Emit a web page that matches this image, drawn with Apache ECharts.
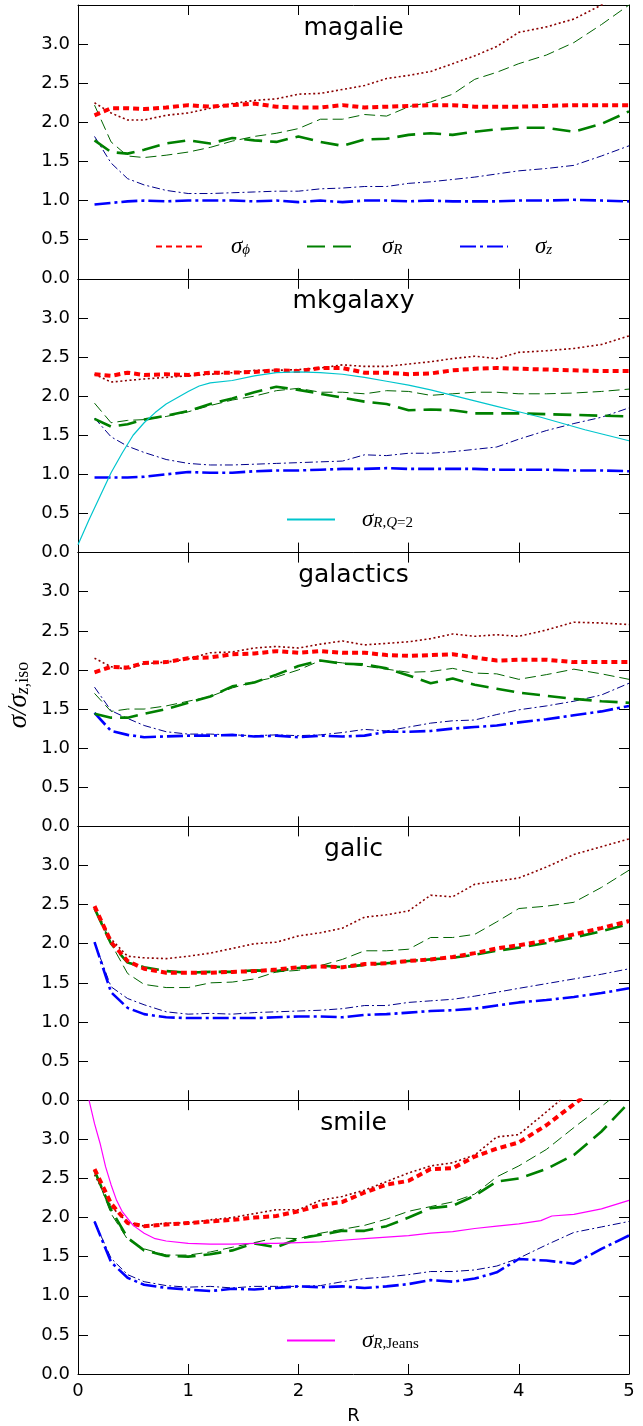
<!DOCTYPE html>
<html>
<head>
<meta charset="utf-8">
<title>sigma profiles</title>
<script src="https://cdn.jsdelivr.net/npm/echarts@6/dist/echarts.min.js"></script>
<style>
  html, body { margin: 0; padding: 0; background: #fff; }
  #chart { width: 643px; height: 1426px; }
</style>
</head>
<body>
<div id="chart"></div>
<script>
// radius bins shared by every profile
const radius = [0.15, 0.3, 0.45, 0.6, 0.8, 1.0, 1.2, 1.4, 1.6, 1.8, 2.0, 2.2, 2.4,
  2.6, 2.8, 3.0, 3.2, 3.4, 3.6, 3.8, 4.0, 4.25, 4.5, 4.75, 5.0];
const models = ['magalie', 'mkgalaxy', 'galactics', 'galic', 'smile'];
const xTicks = [0, 1, 2, 3, 4, 5];

// magalie
const magaliePhi = [2.09, 2.18, 2.18, 2.17, 2.19, 2.22, 2.20, 2.22, 2.24, 2.20, 2.19, 2.19, 2.22, 2.19, 2.20, 2.21, 2.22, 2.22, 2.20, 2.20, 2.20, 2.21, 2.22, 2.22, 2.22];
const magaliePhiThin = [2.25, 2.12, 2.03, 2.03, 2.09, 2.12, 2.18, 2.24, 2.28, 2.30, 2.36, 2.37, 2.42, 2.47, 2.56, 2.60, 2.65, 2.75, 2.85, 2.97, 3.15, 3.22, 3.32, 3.50, 3.65];
const magalieR = [1.77, 1.62, 1.60, 1.65, 1.73, 1.77, 1.73, 1.80, 1.77, 1.75, 1.82, 1.75, 1.70, 1.78, 1.79, 1.84, 1.86, 1.84, 1.88, 1.91, 1.93, 1.93, 1.88, 1.98, 2.14];
const magalieRThin = [2.22, 1.75, 1.57, 1.55, 1.58, 1.62, 1.68, 1.76, 1.82, 1.86, 1.92, 2.04, 2.04, 2.10, 2.08, 2.20, 2.26, 2.36, 2.55, 2.64, 2.75, 2.86, 3.02, 3.25, 3.50];
const magalieZ = [0.95, 0.97, 0.99, 1.00, 0.99, 1.00, 1.00, 1.00, 0.99, 1.00, 0.98, 1.00, 0.98, 1.00, 1.00, 0.99, 1.00, 0.99, 0.99, 0.99, 1.00, 1.00, 1.01, 1.00, 0.99];
const magalieZThin = [1.82, 1.48, 1.28, 1.20, 1.13, 1.09, 1.09, 1.10, 1.11, 1.12, 1.12, 1.15, 1.16, 1.18, 1.18, 1.22, 1.24, 1.27, 1.30, 1.34, 1.38, 1.41, 1.45, 1.57, 1.70];

// mkgalaxy
const mkgalaxyPhi = [2.28, 2.26, 2.30, 2.27, 2.28, 2.27, 2.30, 2.30, 2.31, 2.33, 2.32, 2.36, 2.36, 2.30, 2.30, 2.28, 2.29, 2.33, 2.35, 2.36, 2.35, 2.34, 2.33, 2.32, 2.32];
const mkgalaxyPhiThin = [2.28, 2.18, 2.20, 2.22, 2.24, 2.26, 2.28, 2.30, 2.33, 2.33, 2.34, 2.36, 2.40, 2.38, 2.38, 2.41, 2.44, 2.48, 2.51, 2.48, 2.56, 2.58, 2.61, 2.66, 2.77];
const mkgalaxyR = [1.71, 1.61, 1.64, 1.70, 1.75, 1.81, 1.90, 1.97, 2.05, 2.12, 2.08, 2.03, 1.98, 1.93, 1.90, 1.82, 1.83, 1.82, 1.78, 1.78, 1.78, 1.77, 1.76, 1.75, 1.74];
const mkgalaxyRThin = [1.91, 1.66, 1.69, 1.70, 1.74, 1.80, 1.88, 1.95, 2.00, 2.07, 2.10, 2.05, 2.05, 2.03, 2.07, 2.06, 2.01, 2.03, 2.05, 2.05, 2.03, 2.03, 2.04, 2.06, 2.09];
const mkgalaxyZ = [0.96, 0.96, 0.96, 0.97, 1.00, 1.03, 1.02, 1.02, 1.04, 1.05, 1.05, 1.06, 1.07, 1.07, 1.08, 1.07, 1.07, 1.07, 1.07, 1.06, 1.06, 1.06, 1.05, 1.05, 1.04];
const mkgalaxyZThin = [1.72, 1.48, 1.36, 1.28, 1.19, 1.14, 1.12, 1.12, 1.13, 1.14, 1.15, 1.16, 1.17, 1.25, 1.24, 1.27, 1.27, 1.29, 1.32, 1.35, 1.45, 1.56, 1.65, 1.73, 1.85];
// sigma_R for Q = 2 (mkgalaxy panel)
const q2Radius = [0, 0.1, 0.2, 0.3, 0.4, 0.5, 0.6, 0.7, 0.8, 0.9, 1.0, 1.1, 1.2, 1.4, 1.6, 1.8, 2.0, 2.2, 2.4, 2.6, 2.8, 3.0, 3.2, 3.4, 3.6, 3.8, 4.0, 4.2, 4.4, 4.6, 4.8, 5.0];
const q2Sigma = [0.10, 0.42, 0.72, 1.02, 1.27, 1.50, 1.66, 1.79, 1.90, 1.98, 2.06, 2.13, 2.17, 2.20, 2.26, 2.30, 2.31, 2.30, 2.28, 2.24, 2.19, 2.14, 2.08, 2.01, 1.94, 1.87, 1.80, 1.73, 1.65, 1.57, 1.50, 1.43];

// galactics
const galacticsPhi = [1.97, 2.04, 2.03, 2.09, 2.10, 2.15, 2.16, 2.20, 2.21, 2.24, 2.22, 2.24, 2.22, 2.22, 2.19, 2.18, 2.19, 2.20, 2.16, 2.12, 2.13, 2.13, 2.10, 2.10, 2.10];
const galacticsPhiThin = [2.15, 2.04, 2.01, 2.08, 2.10, 2.14, 2.22, 2.23, 2.28, 2.30, 2.28, 2.33, 2.37, 2.32, 2.34, 2.36, 2.40, 2.46, 2.43, 2.45, 2.43, 2.51, 2.61, 2.60, 2.58];
const galacticsR = [1.44, 1.39, 1.39, 1.44, 1.50, 1.58, 1.66, 1.79, 1.84, 1.94, 2.05, 2.12, 2.08, 2.07, 2.02, 1.93, 1.83, 1.89, 1.81, 1.76, 1.71, 1.67, 1.63, 1.60, 1.58];
const galacticsRThin = [1.70, 1.47, 1.50, 1.50, 1.54, 1.60, 1.66, 1.77, 1.85, 1.91, 2.00, 2.12, 2.09, 2.05, 2.01, 1.97, 1.98, 2.02, 1.96, 1.95, 1.88, 1.94, 2.01, 1.95, 1.88];
const galacticsZ = [1.45, 1.22, 1.17, 1.14, 1.15, 1.16, 1.16, 1.17, 1.15, 1.16, 1.14, 1.16, 1.15, 1.16, 1.21, 1.21, 1.22, 1.25, 1.27, 1.29, 1.33, 1.37, 1.42, 1.47, 1.54];
const galacticsZThin = [1.78, 1.48, 1.38, 1.29, 1.21, 1.18, 1.18, 1.17, 1.16, 1.17, 1.16, 1.17, 1.20, 1.24, 1.22, 1.27, 1.32, 1.35, 1.36, 1.43, 1.49, 1.54, 1.60, 1.68, 1.83];

// galic
const galicPhi = [2.48, 2.02, 1.78, 1.68, 1.63, 1.63, 1.63, 1.64, 1.65, 1.67, 1.70, 1.71, 1.70, 1.74, 1.75, 1.78, 1.80, 1.83, 1.88, 1.94, 1.98, 2.04, 2.12, 2.20, 2.29];
const galicPhiThin = [2.45, 2.06, 1.84, 1.82, 1.81, 1.84, 1.88, 1.94, 2.00, 2.02, 2.10, 2.14, 2.20, 2.34, 2.37, 2.42, 2.62, 2.60, 2.76, 2.80, 2.84, 2.98, 3.14, 3.24, 3.34];
const galicR = [2.45, 2.00, 1.76, 1.70, 1.65, 1.63, 1.64, 1.64, 1.66, 1.65, 1.69, 1.72, 1.70, 1.73, 1.75, 1.78, 1.80, 1.82, 1.86, 1.91, 1.95, 2.01, 2.08, 2.16, 2.25];
const galicRThin = [2.45, 2.00, 1.62, 1.48, 1.44, 1.44, 1.50, 1.51, 1.55, 1.64, 1.66, 1.72, 1.80, 1.91, 1.91, 1.93, 2.08, 2.08, 2.12, 2.28, 2.45, 2.48, 2.53, 2.72, 2.94];
const galicZ = [2.02, 1.38, 1.18, 1.10, 1.06, 1.05, 1.05, 1.05, 1.05, 1.06, 1.07, 1.07, 1.06, 1.09, 1.10, 1.12, 1.14, 1.15, 1.17, 1.21, 1.25, 1.28, 1.32, 1.37, 1.43];
const galicZThin = [2.02, 1.45, 1.30, 1.22, 1.13, 1.10, 1.11, 1.10, 1.12, 1.13, 1.14, 1.15, 1.17, 1.21, 1.21, 1.25, 1.27, 1.29, 1.33, 1.38, 1.43, 1.49, 1.55, 1.61, 1.68];

// smile
const smilePhi = [2.62, 2.18, 1.93, 1.89, 1.91, 1.93, 1.95, 1.97, 2.00, 2.02, 2.08, 2.16, 2.20, 2.32, 2.42, 2.47, 2.62, 2.63, 2.78, 2.88, 2.96, 3.18, 3.45, 3.70, 3.90];
const smilePhiThin = [2.55, 2.14, 1.94, 1.89, 1.93, 1.93, 1.97, 2.00, 2.05, 2.10, 2.10, 2.22, 2.27, 2.35, 2.46, 2.57, 2.66, 2.70, 2.80, 3.03, 3.06, 3.35, 3.65, 3.90, 4.10];
const smileR = [2.60, 2.10, 1.74, 1.58, 1.51, 1.50, 1.53, 1.58, 1.67, 1.62, 1.73, 1.78, 1.83, 1.83, 1.89, 2.00, 2.12, 2.15, 2.28, 2.46, 2.50, 2.62, 2.80, 3.10, 3.47];
const smileRThin = [2.60, 2.05, 1.72, 1.60, 1.52, 1.52, 1.56, 1.62, 1.68, 1.74, 1.73, 1.80, 1.85, 1.90, 1.98, 2.08, 2.14, 2.20, 2.30, 2.52, 2.66, 2.87, 3.15, 3.42, 3.70];
const smileZ = [1.95, 1.43, 1.23, 1.14, 1.10, 1.08, 1.06, 1.09, 1.08, 1.10, 1.12, 1.11, 1.12, 1.10, 1.12, 1.15, 1.20, 1.18, 1.22, 1.30, 1.47, 1.45, 1.41, 1.60, 1.77];
const smileZThin = [1.95, 1.48, 1.27, 1.18, 1.13, 1.11, 1.12, 1.10, 1.12, 1.12, 1.12, 1.13, 1.18, 1.22, 1.24, 1.27, 1.31, 1.31, 1.33, 1.38, 1.48, 1.65, 1.81, 1.88, 1.95];
// Jeans sigma_R (smile panel)
const jeansRadius = [0.1, 0.15, 0.2, 0.25, 0.3, 0.35, 0.4, 0.5, 0.6, 0.7, 0.8, 1.0, 1.2, 1.4, 1.6, 1.8, 2.0, 2.2, 2.4, 2.6, 2.8, 3.0, 3.2, 3.4, 3.6, 3.8, 4.0, 4.2, 4.3, 4.5, 4.75, 5.0];
const jeansSigma = [3.50, 3.20, 2.95, 2.65, 2.42, 2.22, 2.08, 1.90, 1.80, 1.73, 1.70, 1.67, 1.66, 1.66, 1.67, 1.67, 1.68, 1.69, 1.71, 1.73, 1.75, 1.77, 1.80, 1.82, 1.86, 1.89, 1.92, 1.96, 2.02, 2.04, 2.11, 2.22];

const profiles = {
  magalie:   [magaliePhiThin, magalieRThin, magalieZThin, magalieZ, magalieR, magaliePhi],
  mkgalaxy:  [mkgalaxyPhiThin, mkgalaxyRThin, mkgalaxyZThin, mkgalaxyZ, mkgalaxyR, mkgalaxyPhi],
  galactics: [galacticsPhiThin, galacticsRThin, galacticsZThin, galacticsZ, galacticsR, galacticsPhi],
  galic:     [galicPhiThin, galicRThin, galicZThin, galicZ, galicR, galicPhi],
  smile:     [smilePhiThin, smileRThin, smileZThin, smileZ, smileR, smilePhi],
};

const lineKinds = [
  { name: 'phiThin', color: '#8b0000', width: 1.6, type: [2, 2.6] },
  { name: 'RThin', color: '#006400', width: 1, type: [11, 5] },
  { name: 'zThin', color: '#00008b', width: 1, type: [8, 3, 2, 3] },
  { name: 'z', color: '#0000ff', width: 2.6, type: [16, 4, 3, 4] },
  { name: 'R', color: '#008000', width: 2.6, type: [18, 8] },
  { name: 'phi', color: '#ff0000', width: 4, type: [6, 4] },
];

const top0 = 5;
const panelH = 273.8;
const plotLeft = 78;
const plotW = 551;
const serif = 'Liberation Serif';
const sans = 'DejaVu Sans';

function pairs(xs, ys) {
  return xs.map((x, i) => [x, ys[i]]);
}

const grid = [];
const xAxis = [];
const yAxis = [];
const series = [];
const graphic = [];

models.forEach((m, i) => {
  const top = top0 + i * panelH;
  grid.push({ left: plotLeft, top: top, width: plotW, height: panelH });
  ['bottom', 'top'].forEach(pos => {
    xAxis.push({
      type: 'value', gridIndex: i, position: pos, min: 0, max: 5, interval: 1,
      axisLine: { show: true, onZero: false, lineStyle: { color: '#000', width: 1 } },
      axisTick: { show: true, inside: true, length: 10, lineStyle: { color: '#000', width: 1 } },
      axisLabel: {
        show: pos === 'bottom' && i === models.length - 1,
        color: '#000', fontSize: 18, fontFamily: sans, margin: 8,
        formatter: v => (xTicks.indexOf(v) >= 0 ? String(v) : '')
      },
      splitLine: { show: false }
    });
  });
  ['left', 'right'].forEach(pos => {
    yAxis.push({
      type: 'value', gridIndex: i, position: pos, min: 0, max: 3.5, interval: 0.5,
      axisLine: { show: true, onZero: false, lineStyle: { color: '#000', width: 1 } },
      axisTick: { show: true, inside: true, length: 10, lineStyle: { color: '#000', width: 1 } },
      axisLabel: {
        show: pos === 'left', color: '#000', fontSize: 18, fontFamily: sans, margin: 8,
        formatter: v => (v > 3.4 ? '' : v.toFixed(1))
      },
      splitLine: { show: false }
    });
  });

  profiles[m].forEach((vals, k) => {
    const kind = lineKinds[k];
    series.push({
      name: kind.name, type: 'line', xAxisIndex: 2 * i, yAxisIndex: 2 * i,
      data: pairs(radius, vals), symbol: 'none', clip: true,
      lineStyle: { color: kind.color, width: kind.width, type: kind.type, cap: 'butt' },
      itemStyle: { color: kind.color }
    });
  });

  graphic.push({
    type: 'text', x: plotLeft + plotW / 2, y: top + 23, silent: true,
    style: { text: m, font: '25px "DejaVu Sans"', fill: '#000', align: 'center', verticalAlign: 'middle' }
  });
});

series.push({
  name: 'RQ2', type: 'line', xAxisIndex: 2, yAxisIndex: 2,
  data: pairs(q2Radius, q2Sigma), symbol: 'none', clip: true,
  lineStyle: { color: '#00c5cd', width: 1.2 }, itemStyle: { color: '#00c5cd' }
});
series.push({
  name: 'RJeans', type: 'line', xAxisIndex: 8, yAxisIndex: 8,
  data: pairs(jeansRadius, jeansSigma), symbol: 'none', clip: true,
  lineStyle: { color: '#ff00ff', width: 1.2 }, itemStyle: { color: '#ff00ff' }
});

const legendRich = {
  s: { fontFamily: serif, fontStyle: 'italic', fontSize: 23, lineHeight: 22, color: '#000', padding: [0, 0, 0, 22] },
  si: { fontFamily: serif, fontStyle: 'italic', fontSize: 15, lineHeight: 15, verticalAlign: 'bottom', color: '#000' },
  su: { fontFamily: serif, fontSize: 15, lineHeight: 15, verticalAlign: 'bottom', color: '#000' }
};
const legendLabels = {
  phi: '{s|σ}{si|ϕ}',
  R: '{s|σ}{si|R}',
  z: '{s|σ}{si|z}',
  RQ2: '{s|σ}{si|R}{su|,}{si|Q}{su|=2}',
  RJeans: '{s|σ}{si|R}{su|,Jeans}'
};
function legendAt(name, left, midY) {
  return {
    data: [name], left: left, top: midY - 7, itemWidth: 48, itemHeight: 14,
    padding: 0, selectedMode: false, itemStyle: { opacity: 0 },
    formatter: n => legendLabels[n],
    textStyle: { rich: legendRich }
  };
}
const legend = [
  legendAt('phi', 155, 242),
  legendAt('R', 306, 242),
  legendAt('z', 459, 242),
  legendAt('RQ2', 286, 515),
  legendAt('RJeans', 286, 1336)
];

// y axis label, reading bottom to top
graphic.push({
  type: 'text', x: 19, y: 695, rotation: Math.PI / 2, silent: true,
  style: {
    text: '{s|σ}{s|/}{s|σ}{si|z}{su|,iso}', align: 'center', verticalAlign: 'middle',
    rich: {
      s: { fontFamily: serif, fontStyle: 'italic', fontSize: 27, lineHeight: 26, fill: '#000' },
      si: { fontFamily: serif, fontStyle: 'italic', fontSize: 18, lineHeight: 17, verticalAlign: 'bottom', fill: '#000' },
      su: { fontFamily: serif, fontSize: 18, lineHeight: 17, verticalAlign: 'bottom', fill: '#000' }
    }
  }
});
graphic.push({
  type: 'text', x: plotLeft + plotW / 2, y: 1416, silent: true,
  style: { text: 'R', font: '18px "DejaVu Sans"', fill: '#000', align: 'center', verticalAlign: 'middle' }
});

const chart = echarts.init(document.getElementById('chart'));
chart.setOption({
  animation: false,
  backgroundColor: '#fff',
  grid: grid,
  xAxis: xAxis,
  yAxis: yAxis,
  legend: legend,
  series: series,
  graphic: graphic
});
</script>
</body>
</html>
